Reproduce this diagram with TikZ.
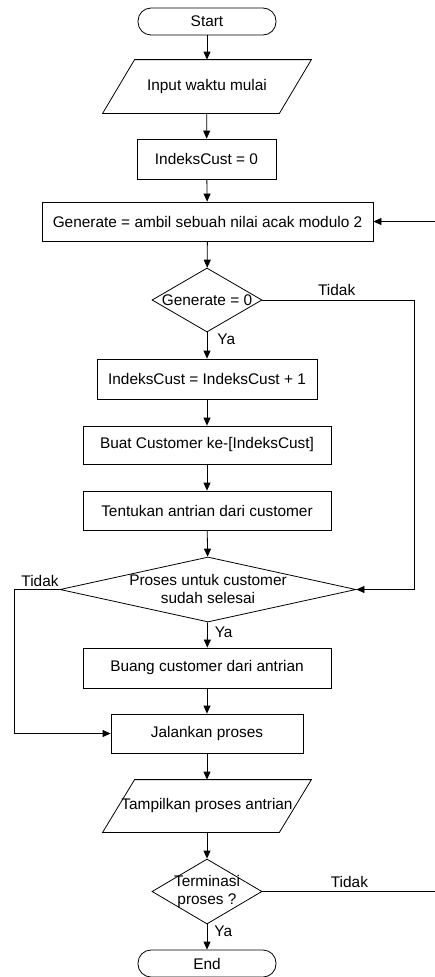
\documentclass[tikz,border=0pt]{standalone}
\usepackage{fontspec}
\setmainfont{Liberation Sans}
\usetikzlibrary{shapes.geometric,arrows.meta}
\begin{document}
\begin{tikzpicture}[x=1pt,y=-1pt,line width=0.8pt,
  font=\fontsize{15.4}{18}\selectfont,
  >={Triangle[length=8pt,width=7pt]},
  term/.style={draw,rounded corners=13pt,minimum width=138pt,minimum height=27pt,inner sep=0pt},
  io/.style={rectangle,minimum width=176pt,minimum height=53pt,inner sep=0pt},
  proc/.style={draw,rectangle,minimum height=39pt,inner sep=0pt},
  dec/.style={draw,diamond,inner sep=0pt},
  ans/.style={inner sep=1pt}]
\useasboundingbox (0,0) rectangle (434,977);
% nodes
\node[term] (start) at (207,21.5) {Start};
\node[io] (inp) at (207,86.5) {Input waktu mulai};
\node[proc,minimum width=139pt,minimum height=40pt] (ic0) at (206.5,159) {IndeksCust = 0};
\node[proc,minimum width=331pt] (gen) at (207.5,221.5) {Generate = ambil sebuah nilai acak modulo 2};
\node[dec,minimum width=110pt,minimum height=64pt,label=center:{Generate = 0}] (gen0) at (207,300) {};
\node[proc,minimum width=220pt,minimum height=40pt] (inc) at (207,379) {IndeksCust = IndeksCust + 1};
\node[proc,minimum width=248pt,minimum height=38pt] (buat) at (207,445) {Buat Customer ke-[IndeksCust]};
\node[proc,minimum width=248pt] (tentu) at (207,510.5) {Tentukan antrian dari customer};
\node[dec,minimum width=296pt,minimum height=65pt,label={[align=center,yshift=1pt]center:Proses untuk customer\\sudah selesai}] (selesai) at (208,589.5) {};
\node[proc,minimum width=248pt,minimum height=40pt] (buang) at (207,668) {Buang customer dari antrian};
\node[proc,minimum width=192pt] (jalan) at (207,733.5) {Jalankan proses};
\node[io,minimum height=52pt] (tampil) at (207,806) {Tampilkan proses antrian};
\node[dec,minimum width=110pt,minimum height=65pt,label={[align=center]center:Terminasi\\proses ?}] (termin) at (207,891.5) {};
\node[term] (end) at (207,963.5) {End};
% parallelograms
\foreach \p in {inp,tampil}
  \draw ([xshift=16pt]\p.north west) -- ([xshift=16pt]\p.north east)
     -- ([xshift=-16pt]\p.south east) -- ([xshift=-16pt]\p.south west) -- cycle;
% turning points
\coordinate (r1) at (414,300);
\coordinate (l1) at (14,589.5);
\coordinate (r2) at (440,891.5);
% main flow
\draw[->] (start) -- (inp);
\draw[->] (inp) -- (ic0);
\draw[->] (ic0) -- (gen);
\draw[->] (gen) -- (gen0);
\draw[->] (gen0) -- node[ans,right,xshift=9pt,pos=0.26] (ya1) {Ya} (inc);
\draw[->] (inc) -- (buat);
\draw[->] (buat) -- (tentu);
\draw[->] (tentu) -- (selesai);
\draw[->] (selesai) -- node[ans,right,xshift=6pt,pos=0.38] (ya2) {Ya} (buang);
\draw[->] (buang) -- (jalan);
\draw[->] (jalan) -- (tampil);
\draw[->] (tampil) -- (termin);
\draw[->] (termin) -- node[ans,right,xshift=6pt,pos=0.28] (ya3) {Ya} (end);
% branches
\draw[->] (gen0.east) -- node[ans,above,yshift=3pt,pos=0.49] (tidak1) {Tidak} (r1) |- (selesai.east);
\draw[->] (selesai.west) -- node[ans,above,yshift=1pt,pos=0.43] (tidak2) {Tidak} (l1) |- (jalan.west);
\draw[->] (termin.east) -- node[ans,above,yshift=2pt,pos=0.49] (tidak3) {Tidak} (r2) |- (gen.east);
\end{tikzpicture}
\end{document}
